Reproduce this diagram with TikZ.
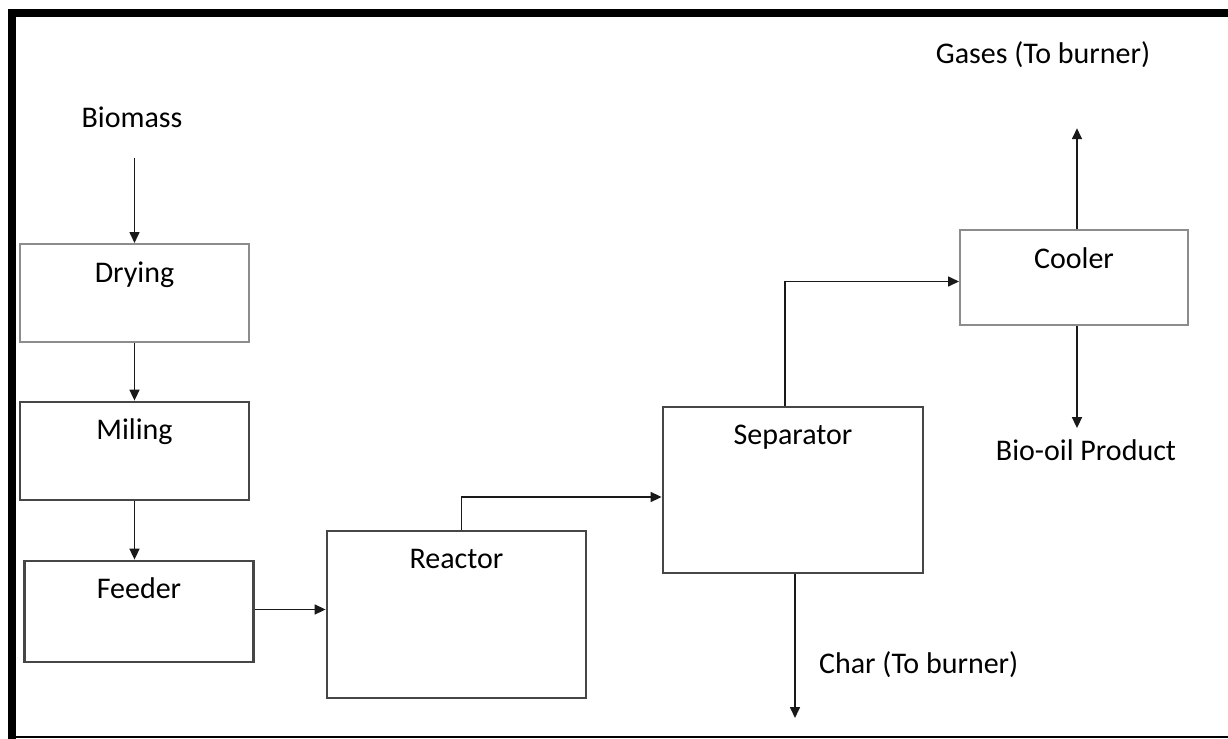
\documentclass[tikz,border=0pt]{standalone}
\usepackage{fontspec}
\setmainfont{Carlito}
\usetikzlibrary{arrows.meta,positioning}
\definecolor{BoxGray}{RGB}{70,70,70}
\definecolor{PaleGray}{RGB}{140,140,140}
\definecolor{LineBlack}{RGB}{25,25,25}
\tikzset{
  procbox/.style={draw=BoxGray,line width=1.4pt,minimum width=114.5pt,minimum height=49pt,inner sep=0pt},
  palebox/.style={procbox,draw=PaleGray,line width=1pt},
  boxtext/.style={anchor=base,yshift=-19.5pt,font=\fontsize{15}{18}\selectfont,inner sep=0pt},
  outtext/.style={anchor=base,font=\fontsize{15}{18}\selectfont},
  flow/.style={-{Triangle[length=5.5pt,width=5pt]},line width=0.8pt,draw=LineBlack}
}
\begin{document}
\begin{tikzpicture}[x=0.5pt,y=-0.5pt]
\useasboundingbox (0,0) rectangle (1228,739);
% frame
\fill[black] (8,9) rectangle (16,739);
\fill[black] (8,9) rectangle (1228,17);
\draw[line width=0.8pt] (16,737) -- (1228,737);
% process boxes
\node[palebox, label={[boxtext]north:Drying}] (dry) at (134.5,293) {};
\node[procbox, label={[boxtext]north:Miling}] (mill) at (134.5,451) {};
\node[procbox, minimum height=50.5pt, label={[boxtext]north:Feeder}] (feed) at (139,611.5) {};
\node[procbox, minimum width=129.5pt, minimum height=83.5pt, label={[boxtext]north:Reactor}] (reac) at (456.5,614.5) {};
\node[procbox, minimum width=130pt, minimum height=83pt, label={[boxtext]north:Separator}] (sep) at (793,490) {};
\node[palebox, minimum width=114pt, minimum height=47.5pt, label={[boxtext]north:Cooler}] (cool) at (1074,277.5) {};
% streams
\node[outtext] (bio) at (132,127) {Biomass};
\node[outtext] (gas) at (1043,63) {Gases (To burner)};
\node[outtext] (oil) at (1086,460) {Bio-oil Product};
\node[outtext, anchor=base west] (char) at (812,673) {Char (To burner)};
\coordinate (charout) at (795,718);
% connectors
\draw[flow, shorten <=12pt] (bio.south -| dry.north) -- (dry.north);
\draw[flow] (dry.south) -- (mill.north);
\draw[flow] (mill.south) -- (mill.south |- feed.north);
\draw[flow] ([yshift=1pt]feed.east) -- ([yshift=1pt]feed.east -| reac.west);
\draw[flow] ([xshift=2.5pt]reac.north) |- ([yshift=-3.5pt]sep.west);
\draw[flow] ([xshift=-4pt]sep.north) |- ([yshift=-2pt]cool.west);
\draw[flow, shorten >=27pt] ([xshift=1.5pt]cool.north) -- ([xshift=1.5pt]cool.north |- gas.south);
\draw[flow, shorten >=2pt] ([xshift=1.5pt]cool.south) -- ([xshift=1.5pt]cool.south |- oil.north);
\draw[flow] ([xshift=1pt]sep.south) -- ([xshift=1pt]sep.south |- charout);
\end{tikzpicture}
\end{document}
